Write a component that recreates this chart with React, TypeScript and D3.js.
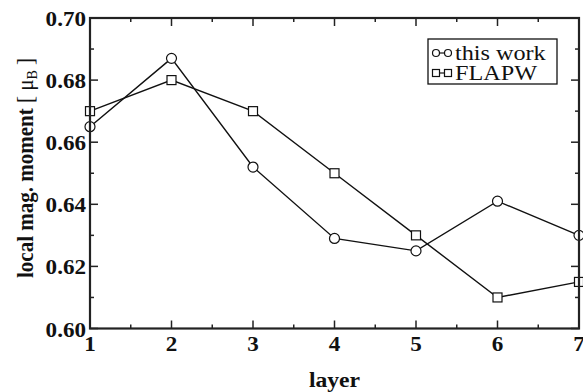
import React from "react";
import * as d3 from "d3";

const layers = [1, 2, 3, 4, 5, 6, 7];
const thisWork = [0.665, 0.687, 0.652, 0.629, 0.625, 0.641, 0.630];
const flapw = [0.670, 0.680, 0.670, 0.650, 0.630, 0.610, 0.615];
const xTicks = [1, 2, 3, 4, 5, 6, 7];
const yTicks = [0.60, 0.62, 0.64, 0.66, 0.68, 0.70];
const seriesNames = ["this work", "FLAPW"];

const W = 583, H = 392;
const L = 90, R = 579, T = 18, B = 328.5;
const SX = 1.1;
const font = "'Liberation Serif', 'Times New Roman', serif";

export default function App() {
  const x = d3.scaleLinear().domain([1, 7]).range([L, R]);
  const y = d3.scaleLinear().domain([0.6, 0.7]).range([B, T]);
  const line = d3.line<number>().x((_, i) => x(layers[i])).y((d) => y(d));
  const xMinor = d3.range(1.5, 7, 1);
  const yMinor = d3.range(0.61, 0.7, 0.02);

  return (
    <svg width={W} height={H} style={{ position: "absolute", left: 0, top: 0 }} xmlns="http://www.w3.org/2000/svg">
      <rect width={W} height={H} fill="white" />
      <g stroke="#222" strokeWidth={1.5}>
        {xTicks.map((t) => (
          <g key={"xt" + t}>
            <line x1={x(t)} x2={x(t)} y1={B} y2={B - 8} />
            <line x1={x(t)} x2={x(t)} y1={T} y2={T + 8} />
          </g>
        ))}
        {xMinor.map((t) => (
          <g key={"xm" + t}>
            <line x1={x(t)} x2={x(t)} y1={B} y2={B - 4} />
            <line x1={x(t)} x2={x(t)} y1={T} y2={T + 4} />
          </g>
        ))}
        {yTicks.map((t) => (
          <g key={"yt" + t}>
            <line x1={L} x2={L + 8} y1={y(t)} y2={y(t)} />
            <line x1={R} x2={R - 8} y1={y(t)} y2={y(t)} />
          </g>
        ))}
        {yMinor.map((t) => (
          <g key={"ym" + t}>
            <line x1={L} x2={L + 4} y1={y(t)} y2={y(t)} />
            <line x1={R} x2={R - 4} y1={y(t)} y2={y(t)} />
          </g>
        ))}
      </g>
      <path d={line(thisWork) || ""} fill="none" stroke="#111" strokeWidth={1.4} />
      <path d={line(flapw) || ""} fill="none" stroke="#111" strokeWidth={1.4} />
      {thisWork.map((v, i) => (
        <circle key={"c" + i} cx={x(layers[i])} cy={y(v)} r={5} fill="white" stroke="#111" strokeWidth={1.2} />
      ))}
      {flapw.map((v, i) => (
        <rect key={"s" + i} x={x(layers[i]) - 4.5} y={y(v) - 4.5} width={9} height={9} fill="white" stroke="#111" strokeWidth={1.2} />
      ))}
      <rect x={L} y={T} width={R - L} height={B - T} fill="none" stroke="#222" strokeWidth={2.2} />
      <g fontFamily={font} fontWeight="bold" fontSize={21} fill="#111">
        {xTicks.map((t) => (
          <text key={"xl" + t} transform={`translate(${x(t)},${B + 22}) scale(${SX},1)`} textAnchor="middle">{t}</text>
        ))}
        {yTicks.map((t) => (
          <text key={"yl" + t} transform={`translate(${L - 4},${y(t) + 8}) scale(${SX},1)`} textAnchor="end">{t.toFixed(2)}</text>
        ))}
      </g>
      <text transform={`translate(${(L + R) / 2},387) scale(${SX},1)`} textAnchor="middle" fontFamily={font} fontWeight="bold" fontSize={21.5} fill="#111">layer</text>
      <text transform={`translate(33, 168) rotate(-90) scale(1,${SX})`} textAnchor="middle" fontFamily={font} fontSize={21} fill="#111">
        <tspan fontWeight="bold">local mag. moment </tspan>[ μ<tspan fontSize={14} dy={4}>B</tspan><tspan dy={-4}> ]</tspan>
      </text>
      <rect x={428} y={39} width={129} height={45} fill="white" stroke="#111" strokeWidth={1.3} />
      {seriesNames.map((name, i) => {
        const ly = 53 + i * 20;
        return (
          <g key={name}>
            <line x1={436} x2={448} y1={ly} y2={ly} stroke="#111" strokeWidth={1.2} />
            {i === 0 ? (
              <>
                <circle cx={436} cy={ly} r={3.5} fill="white" stroke="#111" strokeWidth={1.2} />
                <circle cx={448} cy={ly} r={3.5} fill="white" stroke="#111" strokeWidth={1.2} />
              </>
            ) : (
              <>
                <rect x={432.5} y={ly - 3.5} width={7} height={7} fill="white" stroke="#111" strokeWidth={1.2} />
                <rect x={444.5} y={ly - 3.5} width={7} height={7} fill="white" stroke="#111" strokeWidth={1.2} />
              </>
            )}
            <text transform={`translate(455,${ly + 7}) scale(${SX},1)`} fontFamily={font} fontSize={22} fill="#111">{name}</text>
          </g>
        );
      })}
    </svg>
  );
}
